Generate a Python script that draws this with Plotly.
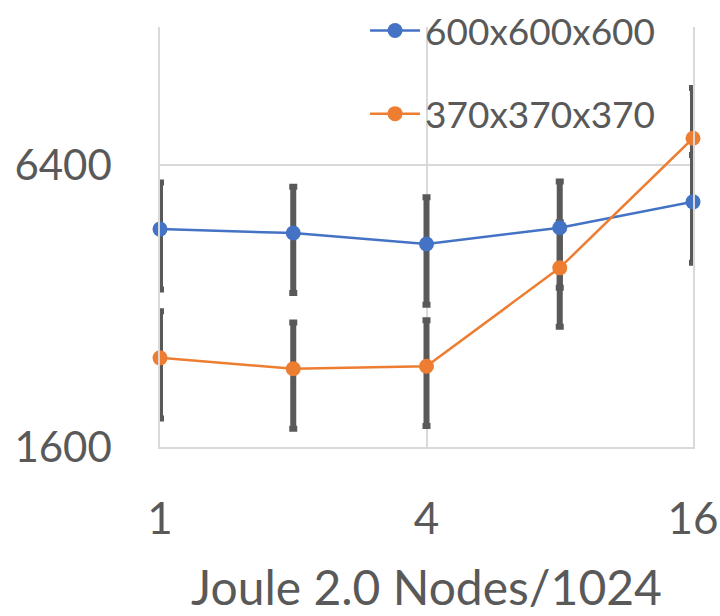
import plotly.graph_objects as go
import math

nodes = [1, 2, 4, 8, 16]
series_names = ["600x600x600", "370x370x370"]
blue_vals = [4670, 4580, 4340, 4700, 5340]
blue_err = [1200, 1170, 1120, 1200, 1380]
orange_vals = [2480, 2350, 2380, 3860, 7300]
orange_err = [640, 600, 605, 970, 2040]
x_ticks = [1, 4, 16]
y_ticks = [1600, 6400]
y_ticktext = ["1600", "6400"]

BLUE = "#4472C4"
ORANGE = "#ED7D31"
GRAY = "#595959"
GRID = "#D9D9D9"
FONT = "Lato"

fig = go.Figure()

# error bars first (drawn beneath all markers)
for vals, err in [(blue_vals, blue_err), (orange_vals, orange_err)]:
    fig.add_trace(go.Scatter(
        x=nodes, y=vals, mode="markers",
        marker=dict(color="rgba(0,0,0,0)", size=1),
        error_y=dict(type="data", array=err, visible=True, color=GRAY, thickness=6, width=4),
        showlegend=False, hoverinfo="skip", cliponaxis=False))

for name, vals, col, grp in [(series_names[0], blue_vals, BLUE, "a"), (series_names[1], orange_vals, ORANGE, "b")]:
    fig.add_trace(go.Scatter(
        x=nodes, y=vals, mode="lines+markers", name=name, legendgroup=grp,
        line=dict(color=col, width=2.5),
        marker=dict(color=col, size=15),
        cliponaxis=False))

ymin = math.log10(1600)
ymax = ymin + (420 / 141) * math.log10(2)

fig.update_layout(
    width=720, height=616,
    margin=dict(l=160, r=27, t=27, b=169, autoexpand=False),
    paper_bgcolor="white", plot_bgcolor="white",
    font=dict(family=FONT, color=GRAY),
    legend=dict(xref="container", yref="container", x=0.507, y=1.03,
                xanchor="left", yanchor="top",
                font=dict(size=37, color=GRAY), bgcolor="rgba(0,0,0,0)",
                tracegroupgap=32, itemwidth=50),
    xaxis=dict(type="log", range=[0, math.log10(16)], automargin=False,
               tickvals=x_ticks, ticktext=[str(v) for v in x_ticks],
               tickfont=dict(size=44, color=GRAY),
               showgrid=True, gridcolor=GRID, gridwidth=1.5,
               showline=True, linecolor=GRID, linewidth=1.5, mirror=False,
               zeroline=False, ticks="", ticklabelstandoff=32,
               title=dict(text="Joule 2.0 Nodes/1024", font=dict(size=48, color=GRAY), standoff=30)),
    yaxis=dict(type="log", range=[ymin, ymax], automargin=False,
               tickvals=y_ticks, ticktext=y_ticktext,
               tickfont=dict(size=42, color=GRAY),
               showgrid=True, gridcolor=GRID, gridwidth=1.5,
               showline=True, linecolor=GRID, linewidth=1.5, mirror=True,
               zeroline=False, ticks="", ticklabelstandoff=38),
)

fig.write_html("out.html", config={"displayModeBar": False},
               post_script="document.body.style.margin='0';document.body.style.overflow='hidden';")
